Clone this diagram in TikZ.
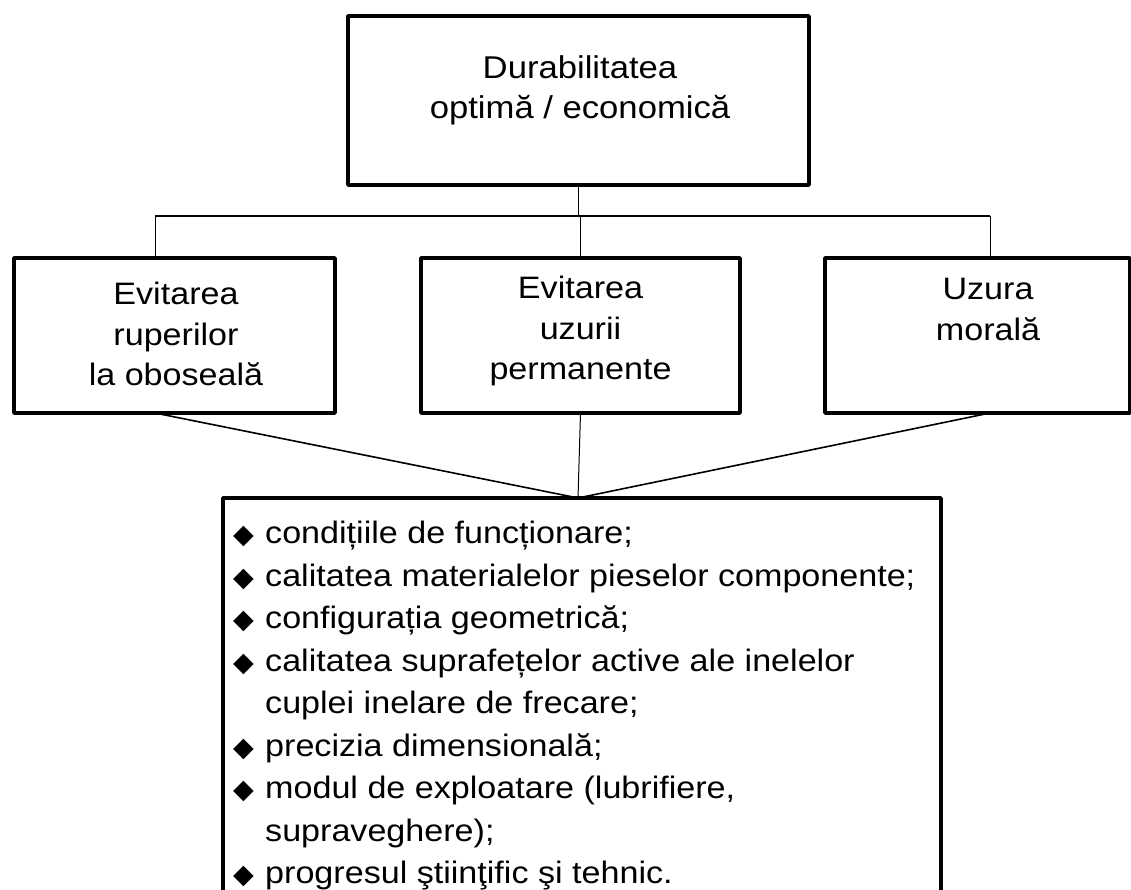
\documentclass[tikz,border=0pt]{standalone}
\usepackage{fontspec}
\setmainfont{Liberation Sans}[FakeStretch=1.1]
\newfontfamily\symfont{DejaVu Sans}
\usetikzlibrary{positioning}
\tikzset{boxx/.style={draw,line width=3.5pt,inner sep=0pt,outer sep=0pt},
  bigtxt/.style={align=center,inner sep=0pt,font=\fontsize{31.5}{40}\selectfont},
  midtxt/.style={align=center,inner sep=0pt,font=\fontsize{31}{40.5}\selectfont},
  listtxt/.style={align=left,inner sep=0pt,font=\fontsize{31}{42.5}\selectfont},
  bus/.style={line width=1.6pt},
  thinl/.style={line width=1pt}}
\newcommand{\itm}{\makebox[32pt][l]{\symfont\fontsize{27}{27}\selectfont ◆}}
\newcommand{\cont}{\hspace*{32pt}}

\begin{document}
\begin{tikzpicture}[x=1pt,y=-1pt,line join=round]
\useasboundingbox (0,0) rectangle (1131,890);
\clip (0,0) rectangle (1131,890);
% --- boxes
\node[boxx,minimum width=461,minimum height=169] (dur) at (578.5,100.5) {};
\node[boxx,minimum width=321,minimum height=155] (rup) at (174.5,335.5) {};
\node[boxx,minimum width=319,minimum height=155] (uzp) at (580.5,335.5) {};
\node[boxx,minimum width=305,minimum height=155] (uzm) at (977.5,335.5) {};
\node[boxx,minimum width=718,minimum height=407] (fac) at (582,701.5) {};
% --- texts
\node[bigtxt,anchor=north] (durt) at (580,55) {Durabilitatea\\ optimă / economică};
\node[midtxt,anchor=north] (rupt) at (176,282) {Evitarea\\ ruperilor\\ la oboseală};
\node[midtxt,anchor=north] (uzpt) at (580.5,276) {Evitarea\\ uzurii\\ permanente};
\node[midtxt,anchor=north] (uzmt) at (988,278) {Uzura\\ morală};
\node[listtxt,anchor=north west] (fact) at (233,521) {\itm condițiile de funcționare;\\
\itm calitatea materialelor pieselor componente;\\
\itm configurația geometrică;\\
\itm calitatea suprafețelor active ale inelelor\\
\cont cuplei inelare de frecare;\\
\itm precizia dimensională;\\
\itm modul de exploatare (lubrifiere,\\
\cont supraveghere);\\
\itm progresul ştiinţific şi tehnic.};
% --- connectors
\coordinate (busL) at (155,216);
\coordinate (busR) at (990,216);
\coordinate (apex) at (578,498);
\draw[bus] (busL) -- (busR);
\draw[thinl] (dur.south) -- (dur.south |- busL);
\draw[thinl] (busL) -- (busL |- rup.north);
\draw[thinl] (uzp.north |- busL) -- (uzp.north);
\draw[thinl] (busR) -- (busR |- uzm.north);
\draw[bus] (busL |- rup.south) -- (apex);
\draw[thinl] (uzp.south) -- (apex);
\draw[bus] (busR |- uzm.south) -- (apex);
\end{tikzpicture}
\end{document}
